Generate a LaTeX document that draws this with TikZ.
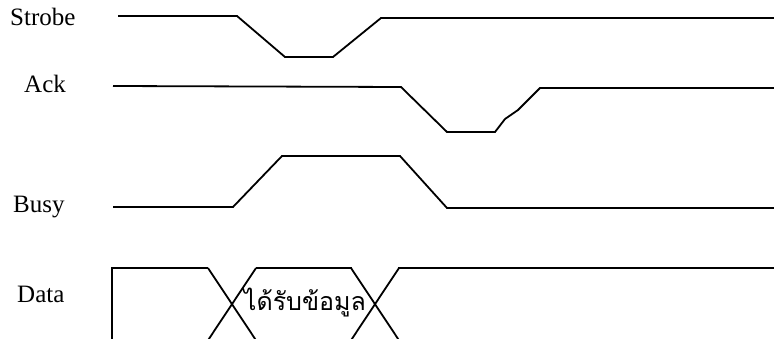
\documentclass[tikz,border=0pt]{standalone}
\usepackage{fontspec}
\setmainfont{Liberation Serif}
\newfontfamily\thaiFont[Script=Thai]{Loma}
\usetikzlibrary{positioning}
\tikzstyle{timing} = [x = 1pt, y = -1pt]
\tikzstyle{signalLine} = [color=black, line width=1.8pt, line join=miter]
\tikzstyle{signalName} = [font=\fontsize{25}{30}\selectfont, inner sep=0pt, anchor=base west]
\tikzstyle{dataText} = [font=\thaiFont\fontsize{25}{30}\selectfont, inner sep=0pt, anchor=base]
\newcommand{\dataTop}{268}
\newcommand{\dataBottom}{339}
% one crossing of the data bus, centred at #1
\newcommand{\dataCross}[1]{\draw [signalLine] (#1 - 24, \dataTop) -- (#1 + 24 * 1.02, \dataBottom + 2);
  \draw [signalLine] (#1 + 24, \dataTop) -- (#1 - 24 * 1.02, \dataBottom + 2);}

\begin{document}
\begin{tikzpicture}[timing]
  \useasboundingbox (0,0) rectangle (774,339);
  \node [signalName] (strobeName) at (10,26) {Strobe};
  \node [signalName] (ackName) at (24,93) {Ack};
  \node [signalName] (busyName) at (13,213) {Busy};
  \node [signalName] (dataName) at (17,302) {Data};

  \begin{scope}
    \clip (0,0) rectangle (774,339);
    % strobe
    \draw [signalLine] (118,16) -- (237,16) -- (285,57) -- (333,57) -- (381,18) -- (776,18);
    % ack
    \draw [signalLine] (113,86) -- (401,87) -- (447,132) -- (495,132) -- (505,119) -- (518,110) -- (540,88) -- (776,88);
    % busy
    \draw [signalLine] (113,207) -- (233,207) -- (282,156) -- (400,156) -- (447,208) -- (776,208);
    % data
    \draw [signalLine] (112,\dataBottom + 2) -- (112,\dataTop) -- (208,\dataTop);
    \draw [signalLine] (256,\dataTop) -- (352,\dataTop);
    \draw [signalLine] (398,\dataTop) -- (776,\dataTop);
    \dataCross{232}
    \dataCross{375}
  \end{scope}
  \node [dataText] (dataValue) at (305,310) {ได้รับข้อมูล};
\end{tikzpicture}
\end{document}
